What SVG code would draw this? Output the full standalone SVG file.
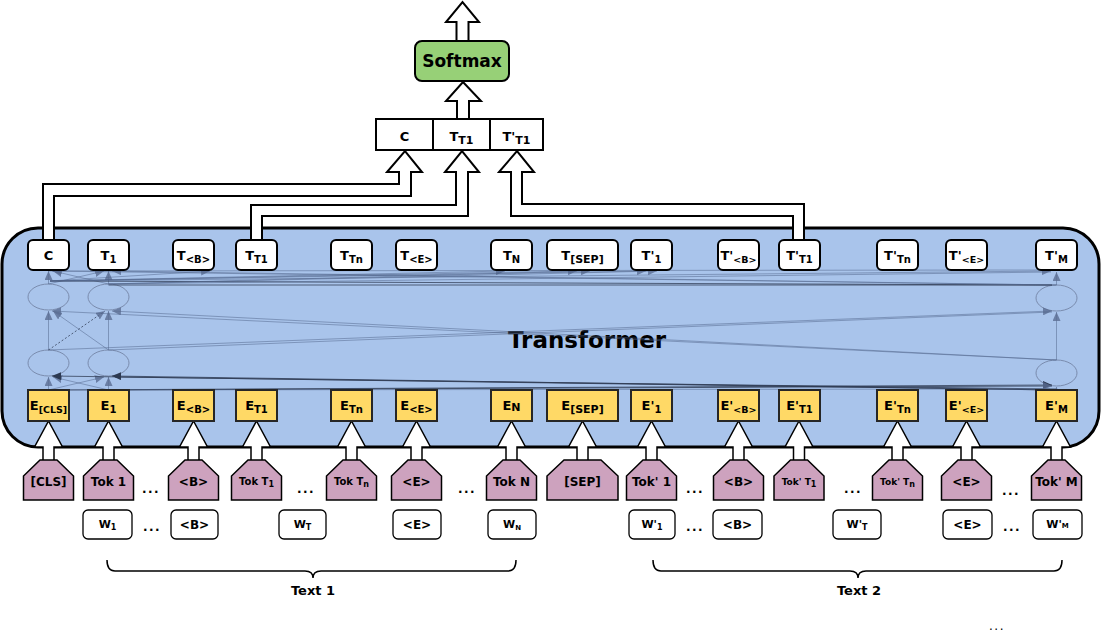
<svg xmlns="http://www.w3.org/2000/svg" width="1103" height="634" viewBox="0 0 1103 634">
<style>
.tbox{fill:#fff;stroke:#000;stroke-width:2}
.ebox{fill:#FFD966;stroke:#262626;stroke-width:2}
.tok{fill:#CDA2BE;stroke:#000;stroke-width:1.5;stroke-linejoin:miter}
.wbox{fill:#fff;stroke:#000;stroke-width:1.3}
.obox{fill:#fff;stroke:#000;stroke-width:2}
.barrow{fill:#fff;stroke:#000;stroke-width:2;stroke-linejoin:miter}
.sarrow{fill:#fff;stroke:#000;stroke-width:1.5;stroke-linejoin:miter}
.lbl{font-family:"DejaVu Sans",Verdana,sans-serif;font-weight:bold;font-size:12px;text-anchor:middle;fill:#000}
.bx{font-size:13px}
.sub{font-size:10px}
.dots{font-family:"DejaVu Sans",Verdana,sans-serif;font-weight:bold;font-size:12px;text-anchor:middle;letter-spacing:1.5px;fill:#000}
.nn{stroke:#4f6389;stroke-opacity:.5;stroke-width:1;fill:none}
.nnd{stroke:#2d3a52;stroke-opacity:.75;stroke-width:1;fill:none}
.ell{fill:none;stroke:#7a8cae;stroke-width:1}
.brace{fill:none;stroke:#000;stroke-width:1.5}
</style>
<defs>
<marker id="ah" markerUnits="userSpaceOnUse" markerWidth="10" markerHeight="8" refX="9" refY="4" orient="auto"><path d="M0,0 L9,4 L0,8 z" fill="#5a6d92" fill-opacity="0.8"/></marker>
<marker id="ahd" markerUnits="userSpaceOnUse" markerWidth="10" markerHeight="8" refX="9" refY="4" orient="auto"><path d="M0,0 L9,4 L0,8 z" fill="#2d3a52"/></marker>
</defs>
<rect width="1103" height="634" fill="#fff"/>

<g id="transformer">
<rect x="2" y="228" width="1097" height="219" rx="36" ry="36" fill="#A9C4EB" stroke="#000" stroke-width="3"/>
<ellipse class="ell" cx="48.5" cy="297" rx="20.5" ry="13"/>
<ellipse class="ell" cx="108.5" cy="297" rx="20.5" ry="13"/>
<ellipse class="ell" cx="48.5" cy="363" rx="20.5" ry="13"/>
<ellipse class="ell" cx="108.5" cy="363" rx="20.5" ry="13"/>
<ellipse class="ell" cx="1056.5" cy="298" rx="20.5" ry="13"/>
<ellipse class="ell" cx="1056.5" cy="373" rx="20.5" ry="13"/>
<text class="lbl" x="587" y="348" style="font-size:23px">Transformer</text>
</g>

<g id="connectors">
<line class="nn" x1="48.5" y1="390" x2="48.5" y2="377" marker-end="url(#ah)"/>
<line class="nn" x1="108.5" y1="390" x2="108.5" y2="377" marker-end="url(#ah)"/>
<line class="nn" x1="48.5" y1="390" x2="104" y2="377" marker-end="url(#ah)"/>
<line class="nn" x1="108.5" y1="390" x2="53" y2="377" marker-end="url(#ah)"/>
<line class="nnd" x1="1056" y1="390" x2="52" y2="376" marker-end="url(#ahd)"/>
<line class="nnd" x1="1056" y1="390" x2="112" y2="376" marker-end="url(#ahd)"/>
<line class="nnd" x1="1056" y1="389" x2="115" y2="377"/>
<line class="nnd" x1="48.5" y1="390" x2="1052" y2="385" marker-end="url(#ahd)"/>
<line class="nnd" x1="108.5" y1="390" x2="1052" y2="386" marker-end="url(#ah)"/>
<line class="nn" x1="48.5" y1="390" x2="1050" y2="389"/>
<line class="nn" x1="1056.5" y1="390" x2="1056.5" y2="387" marker-end="url(#ah)"/>
<line class="nn" x1="48.5" y1="350" x2="48.5" y2="311" marker-end="url(#ah)"/>
<line class="nn" x1="108.5" y1="350" x2="108.5" y2="311" marker-end="url(#ah)"/>
<line class="nnd" x1="48.5" y1="350" x2="105" y2="311" stroke-dasharray="2,2" marker-end="url(#ah)"/>
<line class="nn" x1="108.5" y1="350" x2="53" y2="311" marker-end="url(#ah)"/>
<line class="nn" x1="48.5" y1="350" x2="1052" y2="311" marker-end="url(#ah)"/>
<line class="nn" x1="108.5" y1="350" x2="1052" y2="312"/>
<line class="nn" x1="1056.5" y1="360" x2="52" y2="311" marker-end="url(#ah)"/>
<line class="nn" x1="1056.5" y1="360" x2="112" y2="311" marker-end="url(#ah)"/>
<line class="nn" x1="1056.5" y1="360" x2="1056.5" y2="312" marker-end="url(#ah)"/>
<line class="nn" x1="48.5" y1="284" x2="48.5" y2="271" marker-end="url(#ah)"/>
<line class="nn" x1="108.5" y1="284" x2="108.5" y2="271" marker-end="url(#ah)"/>
<line class="nn" x1="48.5" y1="284" x2="104" y2="271" marker-end="url(#ah)"/>
<line class="nn" x1="108.5" y1="284" x2="53" y2="271" marker-end="url(#ah)"/>
<line class="nnd" x1="50" y1="281" x2="1052" y2="285"/>
<line class="nnd" x1="108.5" y1="285" x2="1052" y2="285"/>
<line class="nn" x1="50" y1="281" x2="210" y2="271" marker-end="url(#ah)"/>
<line class="nn" x1="50" y1="281" x2="505" y2="271" marker-end="url(#ah)"/>
<line class="nn" x1="50" y1="281" x2="577" y2="271" marker-end="url(#ah)"/>
<line class="nn" x1="108.5" y1="284" x2="590" y2="271" marker-end="url(#ah)"/>
<line class="nn" x1="50" y1="281" x2="646" y2="271" marker-end="url(#ah)"/>
<line class="nn" x1="108.5" y1="284" x2="657" y2="271" marker-end="url(#ah)"/>
<line class="nn" x1="50" y1="281" x2="1051" y2="271" marker-end="url(#ah)"/>
<line class="nn" x1="108.5" y1="284" x2="1051" y2="272"/>
<line class="nn" x1="1056.5" y1="285" x2="52" y2="271" marker-end="url(#ah)"/>
<line class="nn" x1="1056.5" y1="285" x2="112" y2="271" marker-end="url(#ah)"/>
<line class="nn" x1="1056.5" y1="285" x2="1056.5" y2="272" marker-end="url(#ah)"/>
<line class="nn" x1="48.5" y1="271" x2="1050" y2="270"/>

<path class="barrow" d="M43,240 L43,184 L399,184 L399,172 L387,172 L405,151 L422,172 L411,172 L411,196 L54,196 L54,240"/>
<path class="barrow" d="M251,240 L251,205 L456,205 L456,172 L445,172 L462,151 L479,172 L468,172 L468,216 L262,216 L262,240"/>
<path class="barrow" d="M804,240 L804,204 L522,204 L522,172 L534,172 L517,151 L499,172 L511,172 L511,216 L793,216 L793,240"/>
<path class="barrow" d="M457,119 L457,101 L446,101 L463,82 L481,101 L469,101 L469,119"/>
<path class="barrow" d="M456.5,40 L456.5,22 L446,22 L462.5,2 L479,22 L468.5,22 L468.5,40"/>

<path class="sarrow" d="M43,461 L43,447 L34.5,447 L48.5,421 L62.5,447 L54,447 L54,461"/>
<path class="sarrow" d="M103,461 L103,447 L94.5,447 L108.5,421 L122.5,447 L114,447 L114,461"/>
<path class="sarrow" d="M188,461 L188,447 L179.5,447 L193.5,421 L207.5,447 L199,447 L199,461"/>
<path class="sarrow" d="M251,461 L251,447 L242.5,447 L256.5,421 L270.5,447 L262,447 L262,461"/>
<path class="sarrow" d="M346,461 L346,447 L337.5,447 L351.5,421 L365.5,447 L357,447 L357,461"/>
<path class="sarrow" d="M411,461 L411,447 L402.5,447 L416.5,421 L430.5,447 L422,447 L422,461"/>
<path class="sarrow" d="M506,461 L506,447 L497.5,447 L511.5,421 L525.5,447 L517,447 L517,461"/>
<path class="sarrow" d="M577,461 L577,447 L568.5,447 L582.5,421 L596.5,447 L588,447 L588,461"/>
<path class="sarrow" d="M646,461 L646,447 L637.5,447 L651.5,421 L665.5,447 L657,447 L657,461"/>
<path class="sarrow" d="M733,461 L733,447 L724.5,447 L738.5,421 L752.5,447 L744,447 L744,461"/>
<path class="sarrow" d="M793.5,461 L793.5,447 L785,447 L799,421 L813,447 L804.5,447 L804.5,461"/>
<path class="sarrow" d="M892,461 L892,447 L883.5,447 L897.5,421 L911.5,447 L903,447 L903,461"/>
<path class="sarrow" d="M961,461 L961,447 L952.5,447 L966.5,421 L980.5,447 L972,447 L972,461"/>
<path class="sarrow" d="M1051,461 L1051,447 L1042.5,447 L1056.5,421 L1070.5,447 L1062,447 L1062,461"/>
</g>

<g id="softmax">
<rect x="415" y="41" width="94" height="40" rx="7" fill="#97D077" stroke="#000" stroke-width="2"/>
<text class="lbl" x="462" y="67" style="font-size:17px">Softmax</text>
</g>

<g id="output-vector">
<rect class="obox" x="376" y="119" width="57" height="31"/>
<rect class="obox" x="433" y="119" width="57" height="31"/>
<rect class="obox" x="490" y="119" width="53" height="31"/>
<text class="lbl bx" x="404.5" y="141">C</text>
<text class="lbl bx" x="461.5" y="141">T<tspan class="sub" style="font-size:11px" dy="3">T1</tspan></text>
<text class="lbl bx" x="516.5" y="141">T'<tspan class="sub" style="font-size:11px" dy="3">T1</tspan></text>
</g>

<g id="outputs">
<rect class="tbox" x="28" y="240" width="41" height="30" rx="5"/><text class="lbl bx" x="48.5" y="260">C</text>
<rect class="tbox" x="88" y="240" width="41" height="30" rx="5"/><text class="lbl bx" x="108.5" y="260">T<tspan class="sub" dy="3">1</tspan></text>
<rect class="tbox" x="173" y="240" width="41" height="30" rx="5"/><text class="lbl bx" x="193.5" y="260">T<tspan class="sub" dy="3">&lt;B&gt;</tspan></text>
<rect class="tbox" x="236" y="240" width="41" height="30" rx="5"/><text class="lbl bx" x="256.5" y="260">T<tspan class="sub" dy="3">T1</tspan></text>
<rect class="tbox" x="331" y="240" width="41" height="30" rx="5"/><text class="lbl bx" x="351.5" y="260">T<tspan class="sub" dy="3">Tn</tspan></text>
<rect class="tbox" x="396" y="240" width="41" height="30" rx="5"/><text class="lbl bx" x="416.5" y="260">T<tspan class="sub" dy="3">&lt;E&gt;</tspan></text>
<rect class="tbox" x="491" y="240" width="41" height="30" rx="5"/><text class="lbl bx" x="511.5" y="260">T<tspan class="sub" dy="3">N</tspan></text>
<rect class="tbox" x="547" y="240" width="71" height="30" rx="5"/><text class="lbl bx" x="582.5" y="260">T<tspan class="sub" style="font-size:11px" dy="3">[SEP]</tspan></text>
<rect class="tbox" x="631" y="240" width="41" height="30" rx="5"/><text class="lbl bx" x="651.5" y="260">T'<tspan class="sub" dy="3">1</tspan></text>
<rect class="tbox" x="718" y="240" width="41" height="30" rx="5"/><text class="lbl bx" x="738.5" y="260">T'<tspan class="sub" style="font-size:9.5px" dy="3">&lt;B&gt;</tspan></text>
<rect class="tbox" x="779" y="240" width="41" height="30" rx="5"/><text class="lbl bx" x="799.5" y="260">T'<tspan class="sub" dy="3">T1</tspan></text>
<rect class="tbox" x="877" y="240" width="41" height="30" rx="5"/><text class="lbl bx" x="897.5" y="260">T'<tspan class="sub" dy="3">Tn</tspan></text>
<rect class="tbox" x="946" y="240" width="41" height="30" rx="5"/><text class="lbl bx" x="966.5" y="260">T'<tspan class="sub" style="font-size:9.5px" dy="3">&lt;E&gt;</tspan></text>
<rect class="tbox" x="1036" y="240" width="41" height="30" rx="5"/><text class="lbl bx" x="1056.5" y="260">T'<tspan class="sub" dy="3">M</tspan></text>
</g>

<g id="embeddings">
<rect class="ebox" x="28" y="390" width="41" height="31"/><text class="lbl bx" x="48.5" y="410">E<tspan class="sub" style="font-size:9.5px" dy="3">[CLS]</tspan></text>
<rect class="ebox" x="88" y="390" width="41" height="31"/><text class="lbl bx" x="108.5" y="410">E<tspan class="sub" dy="3">1</tspan></text>
<rect class="ebox" x="173" y="390" width="41" height="31"/><text class="lbl bx" x="193.5" y="410">E<tspan class="sub" dy="3">&lt;B&gt;</tspan></text>
<rect class="ebox" x="236" y="390" width="41" height="31"/><text class="lbl bx" x="256.5" y="410">E<tspan class="sub" dy="3">T1</tspan></text>
<rect class="ebox" x="331" y="390" width="41" height="31"/><text class="lbl bx" x="351.5" y="410">E<tspan class="sub" dy="3">Tn</tspan></text>
<rect class="ebox" x="396" y="390" width="41" height="31"/><text class="lbl bx" x="416.5" y="410">E<tspan class="sub" dy="3">&lt;E&gt;</tspan></text>
<rect class="ebox" x="491" y="390" width="41" height="31"/><text class="lbl bx" x="511.5" y="410">E<tspan class="sub" style="font-size:11px" dy="1">N</tspan></text>
<rect class="ebox" x="547" y="390" width="71" height="31"/><text class="lbl bx" x="582.5" y="410">E<tspan class="sub" style="font-size:11px" dy="3">[SEP]</tspan></text>
<rect class="ebox" x="631" y="390" width="41" height="31"/><text class="lbl bx" x="651.5" y="410">E'<tspan class="sub" dy="3">1</tspan></text>
<rect class="ebox" x="718" y="390" width="41" height="31"/><text class="lbl bx" x="738.5" y="410">E'<tspan class="sub" style="font-size:9.5px" dy="3">&lt;B&gt;</tspan></text>
<rect class="ebox" x="779" y="390" width="41" height="31"/><text class="lbl bx" x="799.5" y="410">E'<tspan class="sub" dy="3">T1</tspan></text>
<rect class="ebox" x="877" y="390" width="41" height="31"/><text class="lbl bx" x="897.5" y="410">E'<tspan class="sub" dy="3">Tn</tspan></text>
<rect class="ebox" x="946" y="390" width="41" height="31"/><text class="lbl bx" x="966.5" y="410">E'<tspan class="sub" style="font-size:9.5px" dy="3">&lt;E&gt;</tspan></text>
<rect class="ebox" x="1036" y="390" width="41" height="31"/><text class="lbl bx" x="1056.5" y="410">E'<tspan class="sub" dy="3">M</tspan></text>
</g>

<g id="tokens">
<polygon class="tok" points="40,460 57,460 73.5,476 73.5,500 23.5,500 23.5,476"/><text class="lbl" x="48.5" y="486">[CLS]</text>
<polygon class="tok" points="100,460 117,460 133.5,476 133.5,500 83.5,500 83.5,476"/><text class="lbl" x="108.5" y="486">Tok 1</text>
<polygon class="tok" points="185,460 202,460 218.5,476 218.5,500 168.5,500 168.5,476"/><text class="lbl" x="193.5" y="486">&lt;B&gt;</text>
<polygon class="tok" points="248,460 265,460 281.5,476 281.5,500 231.5,500 231.5,476"/><text class="lbl" x="256.5" y="485" style="font-size:10px">Tok T<tspan class="sub" style="font-size:8px" dy="2">1</tspan></text>
<polygon class="tok" points="343,460 360,460 376.5,476 376.5,500 326.5,500 326.5,476"/><text class="lbl" x="351.5" y="485" style="font-size:10px">Tok T<tspan class="sub" style="font-size:8px" dy="2">n</tspan></text>
<polygon class="tok" points="408,460 425,460 441.5,476 441.5,500 391.5,500 391.5,476"/><text class="lbl" x="416.5" y="486">&lt;E&gt;</text>
<polygon class="tok" points="503,460 520,460 536.5,476 536.5,500 486.5,500 486.5,476"/><text class="lbl" x="511.5" y="486">Tok N</text>
<polygon class="tok" points="564,460 601,460 618,476 618,500 547,500 547,476"/><text class="lbl" x="582.5" y="486">[SEP]</text>
<polygon class="tok" points="643,460 660,460 676.5,476 676.5,500 626.5,500 626.5,476"/><text class="lbl" x="651.5" y="486">Tok' 1</text>
<polygon class="tok" points="730,460 747,460 763.5,476 763.5,500 713.5,500 713.5,476"/><text class="lbl" x="738.5" y="486">&lt;B&gt;</text>
<polygon class="tok" points="790.5,460 807.5,460 824,476 824,500 774,500 774,476"/><text class="lbl" x="799" y="485" style="font-size:9px">Tok' T<tspan class="sub" style="font-size:8px" dy="2">1</tspan></text>
<polygon class="tok" points="889,460 906,460 922.5,476 922.5,500 872.5,500 872.5,476"/><text class="lbl" x="897.5" y="485" style="font-size:9px">Tok' T<tspan class="sub" style="font-size:8px" dy="2">n</tspan></text>
<polygon class="tok" points="958,460 975,460 991.5,476 991.5,500 941.5,500 941.5,476"/><text class="lbl" x="966.5" y="486">&lt;E&gt;</text>
<polygon class="tok" points="1048,460 1065,460 1081.5,476 1081.5,500 1031.5,500 1031.5,476"/><text class="lbl" x="1056.5" y="486">Tok' M</text>
<text class="dots" x="151" y="493">...</text>
<text class="dots" x="306" y="493">...</text>
<text class="dots" x="467" y="493">...</text>
<text class="dots" x="695" y="493">...</text>
<text class="dots" x="853" y="493">...</text>
<text class="dots" x="1011" y="495">...</text>
</g>

<g id="words">
<rect class="wbox" x="83" y="510" width="49" height="29" rx="5"/><text class="lbl" x="107.5" y="528" style="font-size:11px">W<tspan class="sub" style="font-size:8px" dy="2">1</tspan></text>
<rect class="wbox" x="171" y="510" width="47" height="29" rx="5"/><text class="lbl" x="194.5" y="529">&lt;B&gt;</text>
<rect class="wbox" x="279" y="510" width="47" height="29" rx="5"/><text class="lbl" x="302.5" y="528" style="font-size:11px">W<tspan class="sub" style="font-size:8px" dy="2">T</tspan></text>
<rect class="wbox" x="393" y="510" width="48" height="29" rx="5"/><text class="lbl" x="417" y="529">&lt;E&gt;</text>
<rect class="wbox" x="488" y="510" width="48" height="29" rx="5"/><text class="lbl" x="512" y="528" style="font-size:11px">W<tspan class="sub" style="font-size:7px" dy="2">N</tspan></text>
<rect class="wbox" x="629" y="510" width="46" height="29" rx="5"/><text class="lbl" x="652" y="528" style="font-size:11px">W'<tspan class="sub" style="font-size:8px" dy="2">1</tspan></text>
<rect class="wbox" x="713" y="510" width="49" height="29" rx="5"/><text class="lbl" x="737.5" y="529">&lt;B&gt;</text>
<rect class="wbox" x="833" y="510" width="48" height="29" rx="5"/><text class="lbl" x="857" y="528" style="font-size:11px">W'<tspan class="sub" style="font-size:8px" dy="2">T</tspan></text>
<rect class="wbox" x="943" y="510" width="49" height="29" rx="5"/><text class="lbl" x="967.5" y="529">&lt;E&gt;</text>
<rect class="wbox" x="1033" y="510" width="49" height="29" rx="5"/><text class="lbl" x="1057.5" y="528" style="font-size:11px">W'<tspan style="font-size:7px">M</tspan></text>
<text class="dots" x="152" y="531">...</text>
<text class="dots" x="695" y="531">...</text>
<text class="dots" x="1012" y="531">...</text>
</g>

<g id="text1">
<path class="brace" d="M107,560 Q107,571 115,571 L305,571 Q313,571 313,578 Q313,571 321,571 L508,571 Q516,571 516,560"/>
<text class="lbl" x="313" y="595" style="font-size:13px">Text 1</text>
</g>
<g id="text2">
<path class="brace" d="M653,560 Q653,571 661,571 L850,571 Q858,571 858,578 Q858,571 866,571 L1054,571 Q1062,571 1062,560"/>
<text class="lbl" x="859" y="595" style="font-size:13px">Text 2</text>
</g>
<text class="dots" x="997" y="630" style="font-weight:normal">...</text>
</svg>
